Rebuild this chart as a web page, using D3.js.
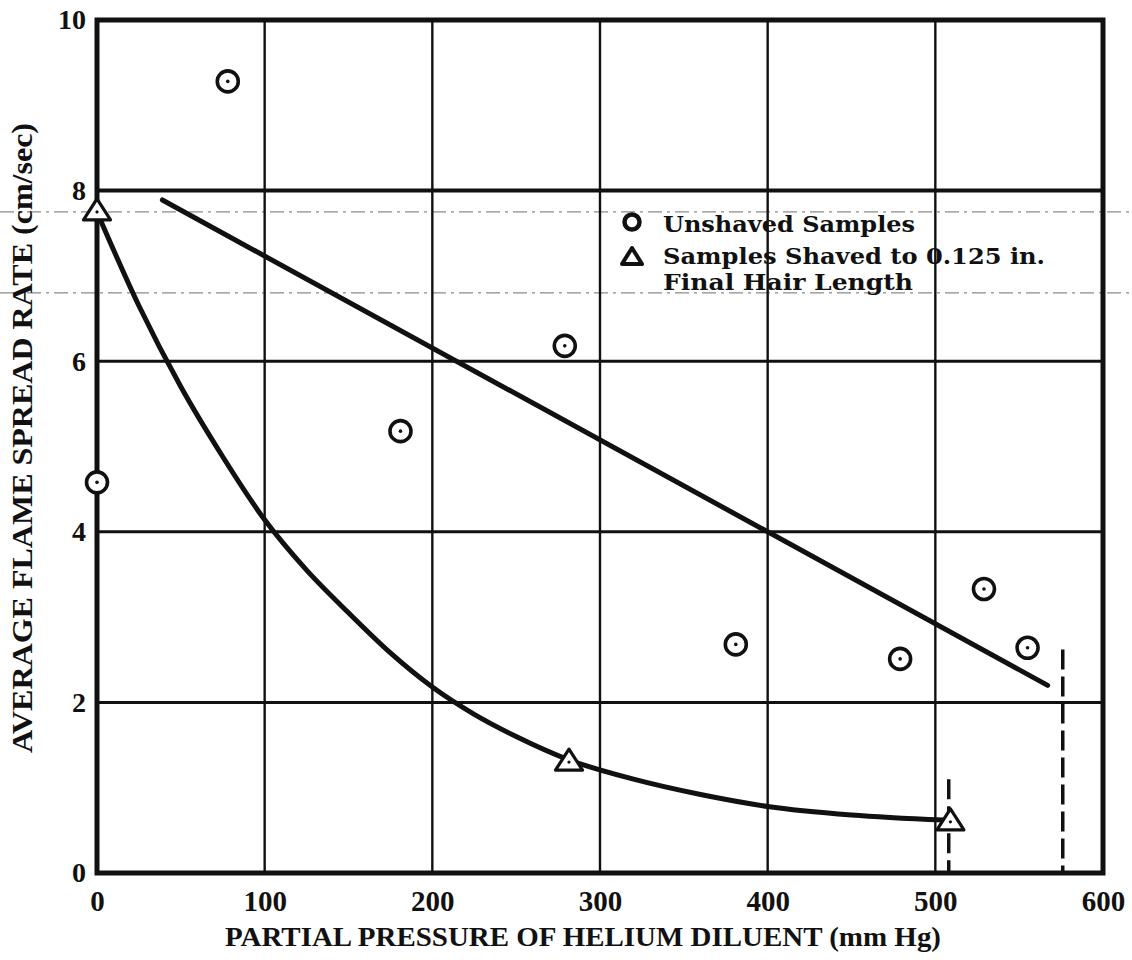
<!DOCTYPE html>
<html>
<head>
<meta charset="utf-8">
<script src="https://cdn.jsdelivr.net/npm/d3@7"></script>
<style>
  body { margin: 0; background: #fff; }
  text { font-family: "Liberation Serif", serif; font-weight: bold; fill: #111; }
</style>
</head>
<body>
<svg id="chart"></svg>
<script>
// values
const unshavedX = [0, 78, 181, 279, 381, 479, 529, 555];
const unshavedY = [4.58, 9.28, 5.18, 6.18, 2.68, 2.51, 3.33, 2.64];

const shavedX = [0, 281.5, 509];
const shavedY = [7.75, 1.30, 0.60];

// faired straight line through the unshaved samples
const upperLineX = [39, 567];
const upperLineY = [7.89, 2.20];

// faired curve through the shaved samples
const lowerCurveX = [0, 25, 50, 75, 100, 125, 150, 175, 200, 225, 250, 281, 320, 360, 400, 450, 505];
const lowerCurveY = [7.75, 6.65, 5.7, 4.88, 4.14, 3.55, 3.05, 2.58, 2.18, 1.86, 1.6, 1.33, 1.1, 0.92, 0.78, 0.68, 0.62];

// dashed vertical limit marks
const limitX = [508, 576];
const limitTop = [1.1, 2.62];

const xTicks = [0, 100, 200, 300, 400, 500, 600];
const yTicks = [0, 2, 4, 6, 8, 10];

const xTitle = "PARTIAL PRESSURE OF HELIUM DILUENT (mm Hg)";
const yTitle = "AVERAGE FLAME SPREAD RATE (cm/sec)";
const legendLabels = ["Unshaved Samples", "Samples Shaved to 0.125 in.", "Final Hair Length"];

const W = 1132, H = 960;
const svg = d3.select("#chart")
  .attr("width", W)
  .attr("height", H)
  .style("background-color", "#fff");

const x = d3.scaleLinear().domain([0, 600]).range([97, 1103]);
const y = d3.scaleLinear().domain([0, 10]).range([873, 20]);

// fold marks from the scan (faint dash-dot)
svg.selectAll(".fold")
  .data([7.75, 6.8])
  .join("line")
  .attr("x1", 0).attr("x2", W)
  .attr("y1", d => y(d)).attr("y2", d => y(d))
  .attr("stroke", "#8a8a8a")
  .attr("stroke-width", 1.3)
  .attr("stroke-dasharray", "14,5,3,5");

// grid
svg.append("g")
  .selectAll("line")
  .data(xTicks.slice(1, -1))
  .join("line")
  .attr("x1", d => x(d)).attr("x2", d => x(d))
  .attr("y1", y(10)).attr("y2", y(0))
  .attr("stroke", "#111")
  .attr("stroke-width", 2.4);

svg.append("g")
  .selectAll("line")
  .data(yTicks.slice(1, -1))
  .join("line")
  .attr("x1", x(0)).attr("x2", x(600))
  .attr("y1", d => y(d)).attr("y2", d => y(d))
  .attr("stroke", "#111")
  .attr("stroke-width", d => d === 8 ? 4 : 3);

// frame
svg.append("rect")
  .attr("x", x(0)).attr("y", y(10))
  .attr("width", x(600) - x(0))
  .attr("height", y(0) - y(10))
  .attr("fill", "none")
  .attr("stroke", "#111")
  .attr("stroke-width", 5);

// axes (labels only)
const xAxis = svg.append("g")
  .attr("transform", `translate(0,${y(0)})`)
  .call(d3.axisBottom(x).tickValues(xTicks).tickSize(0).tickPadding(17).tickFormat(d3.format("d")));
xAxis.select(".domain").remove();
xAxis.selectAll("text")
  .style("font-family", "Liberation Serif, serif")
  .style("font-weight", "bold")
  .style("font-size", "29px")
  .attr("fill", "#111");

const yAxis = svg.append("g")
  .attr("transform", `translate(${x(0)},0)`)
  .call(d3.axisLeft(y).tickValues(yTicks).tickSize(0).tickPadding(11).tickFormat(d3.format("d")));
yAxis.select(".domain").remove();
yAxis.selectAll("text")
  .style("font-family", "Liberation Serif, serif")
  .style("font-weight", "bold")
  .style("font-size", "28px")
  .attr("fill", "#111");

// axis titles
svg.append("text")
  .attr("x", 583).attr("y", 946)
  .attr("text-anchor", "middle")
  .attr("textLength", 716)
  .attr("lengthAdjust", "spacingAndGlyphs")
  .style("font-size", "28px")
  .text(xTitle);

svg.append("text")
  .attr("transform", "translate(32,438) rotate(-90)")
  .attr("text-anchor", "middle")
  .attr("textLength", 630)
  .attr("lengthAdjust", "spacingAndGlyphs")
  .style("font-size", "29px")
  .text(yTitle);

// fitted lines
const line = d3.line().x(d => x(d[0])).y(d => y(d[1]));

svg.append("path")
  .datum(d3.zip(upperLineX, upperLineY))
  .attr("d", line)
  .attr("fill", "none")
  .attr("stroke", "#111")
  .attr("stroke-width", 5)
  .attr("stroke-linecap", "round");

svg.append("path")
  .datum(d3.zip(lowerCurveX, lowerCurveY))
  .attr("d", line.curve(d3.curveMonotoneX))
  .attr("fill", "none")
  .attr("stroke", "#111")
  .attr("stroke-width", 5)
  .attr("stroke-linecap", "round");

// dashed limit marks
svg.selectAll(".limit")
  .data(d3.zip(limitX, limitTop))
  .join("line")
  .attr("x1", d => x(d[0])).attr("x2", d => x(d[0]))
  .attr("y1", d => y(d[1])).attr("y2", y(0))
  .attr("stroke", "#111")
  .attr("stroke-width", 3.5)
  .attr("stroke-dasharray", "20,7");

// markers
const tri = "M0,-13L13.5,8L-13.5,8Z";

const circ = svg.append("g")
  .selectAll("g")
  .data(d3.zip(unshavedX, unshavedY))
  .join("g")
  .attr("transform", d => `translate(${x(d[0])},${y(d[1])})`);
circ.append("circle")
  .attr("r", 10.5)
  .attr("fill", "#fff")
  .attr("stroke", "#111")
  .attr("stroke-width", 3.6);
circ.append("circle")
  .attr("r", 1.8)
  .attr("fill", "#111");

const tris = svg.append("g")
  .selectAll("g")
  .data(d3.zip(shavedX, shavedY))
  .join("g")
  .attr("transform", d => `translate(${x(d[0])},${y(d[1])})`);
tris.append("path")
  .attr("d", tri)
  .attr("fill", "#fff")
  .attr("stroke", "#111")
  .attr("stroke-width", 3.2)
  .attr("stroke-linejoin", "round");
tris.append("circle")
  .attr("r", 1.6)
  .attr("fill", "#111");

// legend
const legend = svg.append("g").attr("transform", "translate(632,0)");
legend.append("circle")
  .attr("cx", 0).attr("cy", 222)
  .attr("r", 7.5)
  .attr("fill", "#fff")
  .attr("stroke", "#111")
  .attr("stroke-width", 4.5);
legend.append("path")
  .attr("transform", "translate(0,257)")
  .attr("d", "M0,-9L10,7L-10,7Z")
  .attr("fill", "#fff")
  .attr("stroke", "#111")
  .attr("stroke-width", 4)
  .attr("stroke-linejoin", "round");

legend.selectAll("text")
  .data(legendLabels)
  .join("text")
  .attr("x", 31)
  .attr("y", (d, i) => [232, 264, 290][i])
  .attr("textLength", (d, i) => [252, 382, 250][i])
  .attr("lengthAdjust", "spacingAndGlyphs")
  .style("font-family", "DejaVu Serif, serif")
  .style("font-size", "22px")
  .text(d => d);
</script>
</body>
</html>
